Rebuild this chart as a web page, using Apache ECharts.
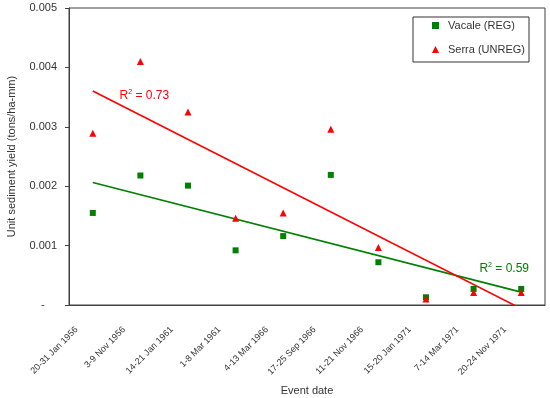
<!DOCTYPE html>
<html><head><meta charset="utf-8">
<script src="https://cdn.jsdelivr.net/npm/echarts@6/dist/echarts.min.js"></script>
<style>html,body{margin:0;padding:0;background:#fff}#c{width:550px;height:398px}</style>
</head><body><div id="c"></div>
<script>
const categories = ['20-31 Jan 1956','3-9 Nov 1956','14-21 Jan 1961','1-8 Mar 1961','4-13 Mar 1966','17-25 Sep 1966','11-21 Nov 1966','15-20 Jan 1971','7-14 Mar 1971','20-24 Nov 1971'];
const vacale = [0.00155,0.00218,0.00201,0.00092,0.00116,0.00219,0.00072,0.00013,0.00027,0.00027];
const serra  = [0.00289,0.00410,0.00325,0.00146,0.00155,0.00296,0.00097,0.00010,0.00021,0.00021];
const yMin = 0, yMax = 0.005, yStep = 0.001;
const r2Serra = '0.73', r2Vacale = '0.59';

function trend(vals){
  const n = vals.length; let sx=0, sy=0;
  vals.forEach((v,i)=>{sx+=i; sy+=v;});
  const mx=sx/n, my=sy/n; let sxy=0, sxx=0;
  vals.forEach((v,i)=>{sxy+=(i-mx)*(v-my); sxx+=(i-mx)*(i-mx);});
  const b=sxy/sxx, a=my-b*mx;
  return [[0, a], [n-1, a+b*(n-1)]];
}
const FONT = 'Liberation Sans';
const GREEN = '#008000', RED = '#ff0000', AX = '#404040';
const chart = echarts.init(document.getElementById('c'), null, {renderer:'canvas'});
const rich = {
  base:{fontFamily:FONT,fontSize:12},
  sup:{fontFamily:FONT,fontSize:7,padding:[0,0,7,0]}
};
chart.setOption({
  animation:false,
  textStyle:{fontFamily:FONT},
  grid:{left:69,right:5,top:8,bottom:93,show:true,borderColor:AX,borderWidth:1,backgroundColor:'transparent',
        containLabel:false, outerBoundsMode:'none'},
  legend:{
    orient:'vertical', left:413, top:17,
    data:[{name:'Vacale (REG)',icon:'rect'},{name:'Serra (UNREG)',icon:'triangle'}],
    itemWidth:7, itemHeight:7, itemGap:13,
    padding:[3,4,7,19],
    borderColor:'#333', borderWidth:1, backgroundColor:'#fff',
    textStyle:{fontFamily:FONT,fontSize:11,color:'#333',padding:[0,0,0,4]}
  },
  xAxis:{
    type:'category', data:categories, boundaryGap:true,
    name:'Event date', nameLocation:'middle', nameGap:80,
    nameTextStyle:{fontFamily:FONT,fontSize:11,color:'#333'},
    axisLine:{lineStyle:{color:AX}},
    axisTick:{inside:true,length:4,lineStyle:{color:AX}},
    axisLabel:{rotate:45,fontSize:9,color:'#333',margin:7,padding:[0,23,0,0],interval:0,
      fontFamily:"'Liberation Sans Narrow', 'Liberation Sans'"},
    splitLine:{show:false}
  },
  yAxis:{
    type:'value', min:yMin, max:yMax, interval:yStep,
    name:'Unit sediment yield (tons/ha-mm)', nameLocation:'middle', nameGap:52,
    nameTextStyle:{fontFamily:FONT,fontSize:11,color:'#333'},
    axisLine:{show:true,lineStyle:{color:AX}},
    axisTick:{show:true,inside:false,length:4,lineStyle:{color:AX}},
    axisLabel:{fontSize:11,color:'#333',margin:12,fontFamily:FONT,
      formatter:v=> v===0 ? '-    ' : v.toFixed(3)},
    splitLine:{show:false}
  },
  series:[
    {name:'Vacale (REG) trend', type:'line', data:trend(vacale), symbol:'none', clip:true,
     lineStyle:{color:GREEN,width:1.6}, z:2, silent:true,
     markPoint:{symbol:'circle',symbolSize:0,data:[{coord:[9,0.00061]}],
       label:{show:true,position:'inside',offset:[-17,0],formatter:'{base|R}{sup|2}{base| = '+r2Vacale+'}',color:GREEN,rich:{base:{...rich.base,color:GREEN},sup:{...rich.sup,color:GREEN}}}}},
    {name:'Serra (UNREG) trend', type:'line', data:trend(serra), symbol:'none', clip:true,
     lineStyle:{color:RED,width:1.6}, z:2, silent:true,
     markPoint:{symbol:'circle',symbolSize:0,data:[{coord:[1,0.00352]}],
       label:{show:true,position:'inside',offset:[4,0],formatter:'{base|R}{sup|2}{base| = '+r2Serra+'}',color:RED,rich:{base:{...rich.base,color:RED},sup:{...rich.sup,color:RED}}}}},
    {name:'Vacale (REG)', type:'scatter', data:vacale, symbol:'rect', symbolSize:6,
     itemStyle:{color:GREEN,opacity:1}, z:3},
    {name:'Serra (UNREG)', type:'scatter', data:serra, symbol:'triangle', symbolSize:7,
     itemStyle:{color:RED,opacity:1}, z:4}
  ]
});
</script></body></html>
